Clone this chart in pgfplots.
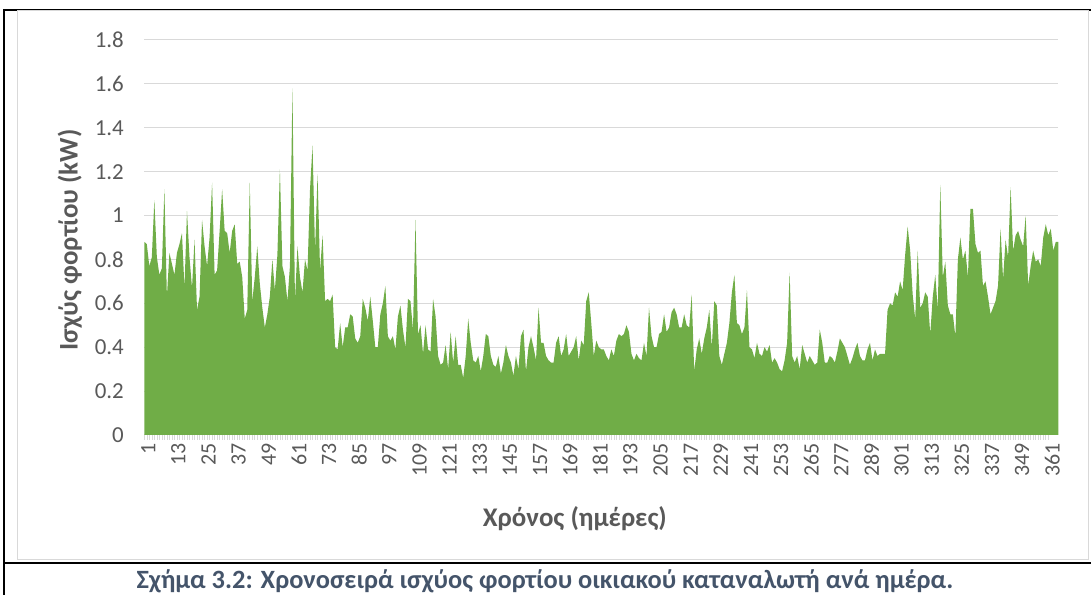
\documentclass[border=0pt]{standalone}
\usepackage{pgfplots}
\pgfplotsset{compat=1.18}
\usepackage{pgfplotstable}
\usepackage{fontspec}
\setmainfont{Carlito}
\definecolor{areagreen}{HTML}{70AD47}
\definecolor{gridgrey}{HTML}{D9D9D9}
\definecolor{labgrey}{HTML}{595959}
\definecolor{capblue}{HTML}{44546A}

\pgfplotstableread[row sep=\\]{
y\\
0.88\\0.87\\0.77\\0.81\\1.07\\0.81\\0.73\\0.76\\1.12\\0.63\\
0.83\\0.78\\0.73\\0.83\\0.87\\0.92\\0.67\\1.02\\0.81\\0.67\\
0.89\\0.57\\0.63\\0.98\\0.86\\0.77\\0.90\\1.15\\0.73\\0.75\\
0.93\\1.12\\0.93\\0.92\\0.83\\0.93\\0.96\\0.78\\0.79\\0.72\\
0.53\\0.57\\1.15\\0.61\\0.72\\0.86\\0.69\\0.58\\0.49\\0.55\\
0.63\\0.80\\0.66\\0.82\\1.21\\0.77\\0.72\\0.61\\0.77\\1.58\\
0.61\\0.86\\0.72\\0.65\\0.80\\0.75\\1.12\\1.32\\0.84\\1.19\\
0.75\\0.91\\0.61\\0.62\\0.61\\0.64\\0.40\\0.39\\0.51\\0.40\\
0.49\\0.49\\0.55\\0.54\\0.44\\0.42\\0.45\\0.62\\0.58\\0.52\\
0.63\\0.52\\0.40\\0.40\\0.55\\0.60\\0.68\\0.45\\0.43\\0.45\\
0.39\\0.54\\0.59\\0.48\\0.40\\0.62\\0.61\\0.48\\0.98\\0.46\\
0.50\\0.37\\0.50\\0.39\\0.38\\0.62\\0.54\\0.36\\0.32\\0.33\\
0.41\\0.30\\0.47\\0.33\\0.45\\0.32\\0.32\\0.26\\0.36\\0.53\\
0.42\\0.34\\0.33\\0.36\\0.29\\0.36\\0.46\\0.45\\0.36\\0.32\\
0.31\\0.36\\0.28\\0.33\\0.41\\0.36\\0.33\\0.27\\0.36\\0.30\\
0.45\\0.48\\0.29\\0.40\\0.45\\0.40\\0.34\\0.58\\0.42\\0.42\\
0.36\\0.34\\0.33\\0.33\\0.42\\0.45\\0.36\\0.39\\0.46\\0.36\\
0.38\\0.40\\0.45\\0.34\\0.43\\0.41\\0.61\\0.65\\0.51\\0.36\\
0.43\\0.40\\0.39\\0.39\\0.36\\0.34\\0.39\\0.36\\0.43\\0.46\\
0.45\\0.46\\0.50\\0.47\\0.37\\0.34\\0.37\\0.35\\0.34\\0.42\\
0.36\\0.58\\0.45\\0.40\\0.40\\0.46\\0.47\\0.55\\0.47\\0.49\\
0.56\\0.58\\0.55\\0.49\\0.49\\0.55\\0.50\\0.49\\0.64\\0.29\\
0.39\\0.44\\0.37\\0.44\\0.49\\0.57\\0.40\\0.61\\0.59\\0.36\\
0.32\\0.37\\0.42\\0.51\\0.65\\0.73\\0.51\\0.50\\0.46\\0.49\\
0.66\\0.40\\0.39\\0.35\\0.42\\0.37\\0.36\\0.40\\0.38\\0.41\\
0.33\\0.35\\0.33\\0.30\\0.29\\0.34\\0.42\\0.74\\0.36\\0.33\\
0.36\\0.30\\0.41\\0.37\\0.33\\0.36\\0.34\\0.32\\0.33\\0.48\\
0.42\\0.33\\0.33\\0.36\\0.35\\0.33\\0.38\\0.44\\0.42\\0.40\\
0.36\\0.32\\0.35\\0.39\\0.42\\0.36\\0.34\\0.34\\0.39\\0.42\\
0.34\\0.39\\0.36\\0.37\\0.37\\0.37\\0.57\\0.60\\0.59\\0.65\\
0.63\\0.70\\0.66\\0.82\\0.95\\0.84\\0.64\\0.53\\0.84\\0.58\\
0.60\\0.65\\0.63\\0.46\\0.63\\0.73\\0.57\\1.14\\0.72\\0.79\\
0.59\\0.55\\0.55\\0.45\\0.80\\0.90\\0.80\\0.84\\0.72\\1.03\\
1.03\\0.87\\0.83\\0.84\\0.68\\0.70\\0.63\\0.55\\0.58\\0.61\\
0.68\\0.94\\0.71\\0.89\\0.81\\1.13\\0.84\\0.91\\0.93\\0.89\\
0.86\\1.00\\0.68\\0.77\\0.84\\0.79\\0.80\\0.77\\0.90\\0.96\\
0.91\\0.94\\0.84\\0.88\\0.88\\
}\loaddata

\begin{document}
\begin{tikzpicture}[x=1bp,y=1bp]
\useasboundingbox (0,0) rectangle (1091,595);
% outer frame and caption separator
\draw[line width=2bp,black] (4,0) -- (4,585) -- (1095,585);
\draw[line width=2bp,black] (4,32) -- (1095,32);
% chart area border
\draw[line width=1bp,gridgrey] (17,35) rectangle (1088,584);
\begin{axis}[
  at={(144.3bp,160bp)}, anchor=south west,
  scale only axis, width=914bp, height=395bp,
  xmin=1, xmax=365, ymin=0, ymax=1.8,
  axis lines*=left,
  x axis line style={draw=gridgrey, line width=1bp},
  y axis line style={draw=none},
  ytick={0,0.2,0.4,0.6,0.8,1,1.2,1.4,1.6,1.8},
  ytick style={draw=none},
  xtick={1,13,...,361},
  minor x tick num=11,
  tick align=outside,
  major tick length=5bp, minor tick length=5bp,
  xtick style={draw=gridgrey, line width=0.6bp},
  minor tick style={draw=gridgrey, line width=0.6bp},
  ymajorgrids, grid style={draw=gridgrey, line width=1bp},
  /pgf/number format/assume math mode=true,
  tick label style={text=labgrey},
  yticklabel style={font=\fontsize{23}{26}\selectfont, xshift=-12bp},
  xticklabel style={font=\fontsize{22}{25}\selectfont, rotate=90, anchor=east, yshift=-4bp},
  xlabel={Χρόνος (ημέρες)},
  ylabel={Ισχύς φορτίου (kW)},
  label style={font=\fontsize{27}{32}\bfseries, text=labgrey},
  xlabel style={at={(axis description cs:0.471,-0.2127)}, anchor=center},
  ylabel style={at={(axis description cs:-0.0813,0.494)}, anchor=center, rotate=0},
  clip=false,
]
\addplot[fill=areagreen, draw=none] table[x expr=\coordindex+1, y=y] {\loaddata} \closedcycle;
\end{axis}
\node[font=\fontsize{26.5}{30}\bfseries, text=capblue] at (545,14) {Σχήμα 3.2: Χρονοσειρά ισχύος φορτίου οικιακού καταναλωτή ανά ημέρα.};
\end{tikzpicture}
\end{document}
